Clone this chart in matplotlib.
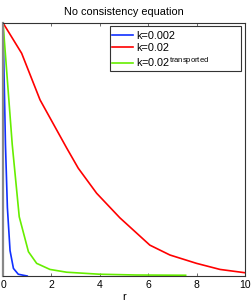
import matplotlib
matplotlib.use("Agg")
import matplotlib.pyplot as plt
from matplotlib.patches import Rectangle

plt.rcParams['font.family'] = ['Liberation Sans', 'DejaVu Sans']
plt.rcParams['mathtext.fontset'] = 'custom'
plt.rcParams['mathtext.rm'] = 'Liberation Sans'

r_blue = [0, 0.1, 0.18, 0.29, 0.43, 0.63, 1.0]
v_blue = [1, 0.52, 0.27, 0.10, 0.03, 0.007, 0.0]

r_red = [0, 0.77, 1.53, 2.63, 3.11, 3.87, 4.83, 6.07, 6.9, 8.0, 8.97, 10]
v_red = [1, 0.88, 0.696, 0.506, 0.426, 0.327, 0.23, 0.122, 0.083, 0.05, 0.026, 0.013]

r_green = [0, 0.38, 0.67, 1.05, 1.39, 1.94, 2.63, 4.0, 5.5, 7.55]
v_green = [1, 0.52, 0.234, 0.096, 0.05, 0.026, 0.015, 0.007, 0.004, 0.003]

labels = ["k=0.002", "k=0.02", "k=0.02$^{\\mathrm{transported}}$"]
xticks = [0, 2, 4, 6, 8, 10]

fig = plt.figure(figsize=(2.53, 3.06), dpi=100)
ax = fig.add_axes([0.012, 0.098, 0.956, 0.827])

lw = 1.2
ax.plot(r_blue, v_blue, color='#1030ff', lw=lw, label=labels[0])
ax.plot(r_red, v_red, color='#ff0000', lw=lw, label=labels[1])
ax.plot(r_green, v_green, color='#66ee00', lw=lw, label=labels[2])

ax.set_xlim(0, 10)
ax.set_ylim(0, 1)
ax.set_xticks(xticks)
ax.set_yticks([])
ax.tick_params(axis='x', direction='in', top=True, length=2.5, width=0.6,
               labelsize=7.5, pad=3, color='#555555')
for side in ['top', 'right', 'bottom']:
    ax.spines[side].set_linewidth(0.8)
    ax.spines[side].set_color('#333333')
ax.spines['left'].set_linewidth(1.6)
ax.spines['left'].set_color('#888888')

ax.set_xlabel("r", fontsize=8, labelpad=1)
ax.set_title("No consistency equation", fontsize=7.8, pad=6)

# MATLAB-style legend box, wider than its contents
box = Rectangle((0.442, 0.81), 0.541, 0.178, transform=ax.transAxes,
                facecolor='white', edgecolor='#333333', lw=0.8, zorder=4)
ax.add_patch(box)
leg = ax.legend(loc='upper left', bbox_to_anchor=(0.442, 0.978), fontsize=7.8,
                frameon=False, handlelength=1.9, handletextpad=0.35,
                borderpad=0.2, labelspacing=0.22, borderaxespad=0.0)
leg.set_zorder(5)

fig.savefig("out.png", dpi=100)
